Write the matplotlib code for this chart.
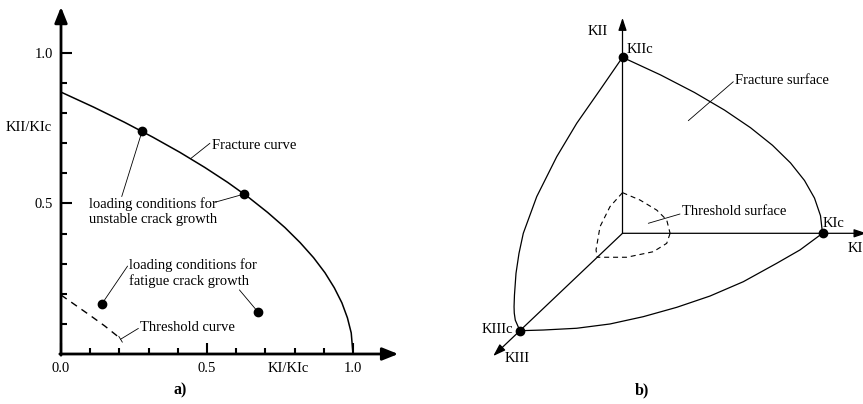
import matplotlib
matplotlib.use("Agg")
import matplotlib.pyplot as plt
import numpy as np
from matplotlib.transforms import Affine2D

plt.rcParams["font.family"] = ["Liberation Serif", "DejaVu Serif"]
FS = 10.5

# --- a) mixed-mode I/II fracture diagram (normalised by KIc) ---
fracture_ki = [0.0, 0.112, 0.217, 0.315, 0.407, 0.492, 0.571, 0.643, 0.708,
               0.767, 0.819, 0.865, 0.904, 0.936, 0.962, 0.981, 0.994, 1.0]
fracture_kii = [0.87, 0.82, 0.77, 0.72, 0.67, 0.62, 0.57, 0.52, 0.47,
                0.42, 0.37, 0.32, 0.27, 0.22, 0.17, 0.12, 0.07, 0.0]
threshold_ki = [0.0, 0.05, 0.10, 0.15, 0.195]
threshold_kii = [0.196, 0.162, 0.128, 0.093, 0.058]
unstable_ki = [0.278, 0.626]
unstable_kii = [0.741, 0.531]
fatigue_ki = [0.139, 0.676]
fatigue_kii = [0.165, 0.138]

major_ticks = [0.0, 0.5, 1.0]
major_labels = ["0.0", "0.5", "1.0"]
minor_ticks = [0.1, 0.2, 0.3, 0.4, 0.6, 0.7, 0.8, 0.9]

# --- b) KI-KII-KIII fracture and threshold surfaces (normalised) ---
# each boundary curve lies in one coordinate plane: (first, second) pairs
surf_I_II_ki = [0.0, 0.19, 0.36, 0.51, 0.64, 0.75, 0.84, 0.91, 0.96, 0.99, 1.0]
surf_I_II_kii = [1.0, 0.9, 0.8, 0.7, 0.6, 0.5, 0.4, 0.3, 0.2, 0.1, 0.0]
surf_III_II_kiii = [0.0, 0.219, 0.446, 0.641, 0.836, 0.967, 1.009, 1.038,
                    1.053, 1.057, 1.055, 1.045, 1.0]
surf_III_II_kii = [1.0, 0.936, 0.872, 0.790, 0.671, 0.535, 0.444, 0.347,
                   0.232, 0.168, 0.131, 0.085, 0.0]
surf_I_III_ki = [0.0, 0.113, 0.271, 0.415, 0.543, 0.661, 0.768, 0.859, 0.929, 0.975, 1.0]
surf_I_III_kiii = [1.0, 0.993, 0.975, 0.931, 0.856, 0.760, 0.644, 0.497, 0.308, 0.171, 0.0]

thr_I_II_ki = [0.0, 0.0875, 0.171, 0.221, 0.238]
thr_I_II_kii = [0.231, 0.189, 0.132, 0.076, 0.0]
thr_I_III_ki = [0.238, 0.274, 0.251, 0.147, 0.0]
thr_I_III_kiii = [0.0, 0.103, 0.189, 0.246, 0.246]
thr_III_II_kiii = [0.0, 0.122, 0.219, 0.258, 0.246]
thr_III_II_kii = [0.231, 0.219, 0.159, 0.048, 0.0]

# oblique projection of the three K axes onto the page
KII_SCALE = 0.88
KIII_DIR = (-0.513, -0.487)


def draw_leader(ax, start, end, transform=None, bar=False):
    style = "-[, widthB=0.25, lengthB=0" if bar else "-"
    kw = {}
    if transform is not None:
        kw = dict(xycoords=transform, textcoords=transform)
    ax.annotate("", xy=end, xytext=start, annotation_clip=False,
                arrowprops=dict(arrowstyle=style, lw=0.6, color="k",
                                shrinkA=0, shrinkB=0), **kw)


fig = plt.figure(figsize=(8.63, 4.04), dpi=100)

# ---------- panel a ----------
ax = fig.add_axes([61 / 863, 50 / 404, 338.7 / 863, 349.2 / 404])
ax.set_xlim(0, 1.16)
ax.set_ylim(0, 1.16)
for s in ax.spines.values():
    s.set_visible(False)
ax.patch.set_visible(False)

axis_arrow = dict(arrowstyle="-|>,head_length=0.95,head_width=0.38",
                  color="k", lw=2.0, shrinkA=0, shrinkB=0)
ax.annotate("", xy=(1.155, 0), xytext=(-0.004, 0), arrowprops=axis_arrow,
            annotation_clip=False)
ax.annotate("", xy=(0, 1.153), xytext=(0, -0.004), arrowprops=axis_arrow,
            annotation_clip=False)

ax.set_xticks(major_ticks)
ax.set_xticklabels(major_labels)
ax.set_xticks(minor_ticks, minor=True)
ax.set_yticks(major_ticks[1:])
ax.set_yticklabels(major_labels[1:])
ax.set_yticks(minor_ticks, minor=True)
ax.tick_params(which="major", direction="in", length=7.7, width=1.5,
               labelsize=FS, pad=6)
ax.tick_params(which="minor", direction="in", length=4.5, width=1.5)

ax.plot(fracture_ki, fracture_kii, color="k", lw=1.1, solid_capstyle="butt")
ax.plot(threshold_ki, threshold_kii, color="k", lw=1.0, dashes=(5, 4))
ax.plot(unstable_ki, unstable_kii, "o", color="k", ms=6)
ax.plot(fatigue_ki, fatigue_kii, "o", color="k", ms=6)

ax.text(0.517, 0.691, "Fracture curve", fontsize=FS, va="center")
draw_leader(ax, (0.444, 0.649), (0.51, 0.70))

ax.text(0.097, 0.4725, "loading conditions for\nunstable crack growth",
        fontsize=FS, va="center", ha="left", linespacing=1.22)
draw_leader(ax, (unstable_ki[0], unstable_kii[0]), (0.208, 0.523))
draw_leader(ax, (unstable_ki[1], unstable_kii[1]), (0.527, 0.504))

ax.text(0.234, 0.269, "loading conditions for\nfatigue crack growth",
        fontsize=FS, va="center", ha="left", linespacing=1.22)
draw_leader(ax, (fatigue_ki[0], fatigue_kii[0]), (0.228, 0.292))
draw_leader(ax, (fatigue_ki[1], fatigue_kii[1]), (0.611, 0.213))

ax.text(0.27, 0.089, "Threshold curve", fontsize=FS, va="center")
draw_leader(ax, (0.265, 0.085), (0.204, 0.049), bar=True)

ax.text(-0.11, 0.752, "KII/KIc", fontsize=FS, ha="center", va="center")
ax.text(0.777, -0.027, "KI/KIc", fontsize=FS, ha="center", va="top")
ax.text(0.408, -0.122, "a)", fontsize=FS + 1, ha="center", va="center",
        fontweight="bold")

# ---------- panel b ----------
axr = fig.add_axes([440 / 863, 0, 423 / 863, 1])
axr.set_xlim(-0.9125, 1.2025)
axr.set_ylim(-0.8535, 1.1665)
axr.axis("off")

t_I_II = Affine2D(np.array([[1, 0, 0], [0, KII_SCALE, 0], [0, 0, 1]])) + axr.transData
t_III_II = Affine2D(np.array([[KIII_DIR[0], 0, 0], [KIII_DIR[1], KII_SCALE, 0],
                              [0, 0, 1]])) + axr.transData
t_I_III = Affine2D(np.array([[1, KIII_DIR[0], 0], [0, KIII_DIR[1], 0],
                             [0, 0, 1]])) + axr.transData

small_arrow = dict(arrowstyle="-|>,head_length=0.75,head_width=0.25",
                   color="k", lw=0.9, shrinkA=0, shrinkB=0)
for tr, tip in [(t_I_II, (1.22, 0)), (t_I_II, (0, 1.224)), (t_I_III, (0, 1.26))]:
    axr.annotate("", xy=tip, xytext=(0, 0), xycoords=tr, textcoords=tr,
                 arrowprops=small_arrow, annotation_clip=False)

line_kw = dict(color="k", lw=0.9)
axr.plot(surf_I_II_ki, surf_I_II_kii, transform=t_I_II, **line_kw)
axr.plot(surf_III_II_kiii, surf_III_II_kii, transform=t_III_II, **line_kw)
axr.plot(surf_I_III_ki, surf_I_III_kiii, transform=t_I_III, **line_kw)

dash_kw = dict(color="k", lw=0.8, dashes=(4.5, 3.5))
axr.plot(thr_I_II_ki, thr_I_II_kii, transform=t_I_II, **dash_kw)
axr.plot(thr_I_III_ki, thr_I_III_kiii, transform=t_I_III, **dash_kw)
axr.plot(thr_III_II_kiii, thr_III_II_kii, transform=t_III_II, **dash_kw)

axr.plot([1, 0], [0, 1], "o", color="k", ms=6, transform=t_I_II)
axr.plot([0], [1], "o", color="k", ms=6, transform=t_I_III)

axr.text(-0.1225, 1.008, "KII", fontsize=FS, ha="center", va="center")
axr.text(0.021, 0.92, "KIIc", fontsize=FS, ha="left", va="center")
axr.text(1.0, 0.047, "KIc", fontsize=FS, ha="left", va="center")
axr.text(1.127, -0.074, "KI", fontsize=FS, ha="left", va="center")
axr.text(-0.5475, -0.483, "KIIIc", fontsize=FS, ha="right", va="center")
axr.text(-0.5875, -0.624, "KIII", fontsize=FS, ha="left", va="center")

axr.text(0.5625, 0.763, "Fracture surface", fontsize=FS, va="center")
draw_leader(axr, (0.329, 0.563), (0.554, 0.758))
axr.text(0.299, 0.108, "Threshold surface", fontsize=FS, va="center")
draw_leader(axr, (0.129, 0.05), (0.2875, 0.0965))

axr.text(0.099, -0.787, "b)", fontsize=FS + 1, ha="center", va="center",
         fontweight="bold")

fig.savefig("out.png", dpi=100)
